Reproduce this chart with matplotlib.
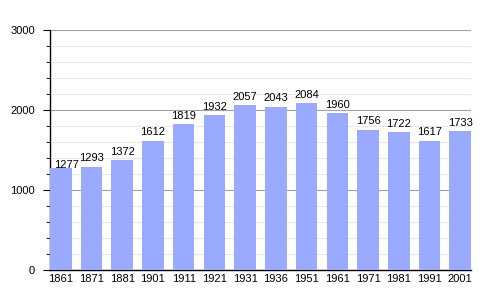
import numpy as np
import matplotlib
matplotlib.use('Agg')
import matplotlib.pyplot as plt
from matplotlib.ticker import MultipleLocator

years = ['1861', '1871', '1881', '1901', '1911', '1921', '1931', '1936',
         '1951', '1961', '1971', '1981', '1991', '2001']
population = [1277, 1293, 1372, 1612, 1819, 1932, 2057, 2043, 2084, 1960,
              1756, 1722, 1617, 1733]

fig = plt.figure(figsize=(5, 3), dpi=100)
ax = fig.add_axes([0.1, 0.1, 0.842, 0.8])

x = np.arange(len(years))
ax.bar(x, population, width=0.7, color='#99aaff', zorder=3)

for i, (xi, v) in enumerate(zip(x, population)):
    # first label is nudged right so it clears the axis line
    dx, dy = (4, 0) if i == 0 else (0, 4)
    ax.annotate(str(v), xy=(xi, v), xytext=(dx, dy), textcoords='offset points',
                ha='center', va='baseline', fontsize=8,
                family='Liberation Sans', zorder=4)

ax.set_xlim(-0.35, len(years) - 0.65)
ax.set_ylim(0, 3000)
ax.set_xticks(x)
ax.set_xticklabels(years, family='Liberation Sans', fontsize=8)
ax.yaxis.set_major_locator(MultipleLocator(1000))
ax.yaxis.set_minor_locator(MultipleLocator(200))
for lbl in ax.get_yticklabels():
    lbl.set_family('Liberation Sans')
    lbl.set_fontsize(8)

ax.grid(True, which='major', axis='y', color='#a0a0a0', lw=0.8, zorder=0)
ax.grid(True, which='minor', axis='y', color='#e8e8e8', lw=0.8, zorder=0)

for s in ['top', 'right']:
    ax.spines[s].set_visible(False)
ax.spines['left'].set_linewidth(1)
ax.spines['bottom'].set_linewidth(1)
ax.tick_params(axis='x', length=0, pad=3)
ax.tick_params(axis='y', which='major', length=5, direction='out', pad=6)
ax.tick_params(axis='y', which='minor', length=3, direction='out')

fig.savefig('out.png', dpi=100)
